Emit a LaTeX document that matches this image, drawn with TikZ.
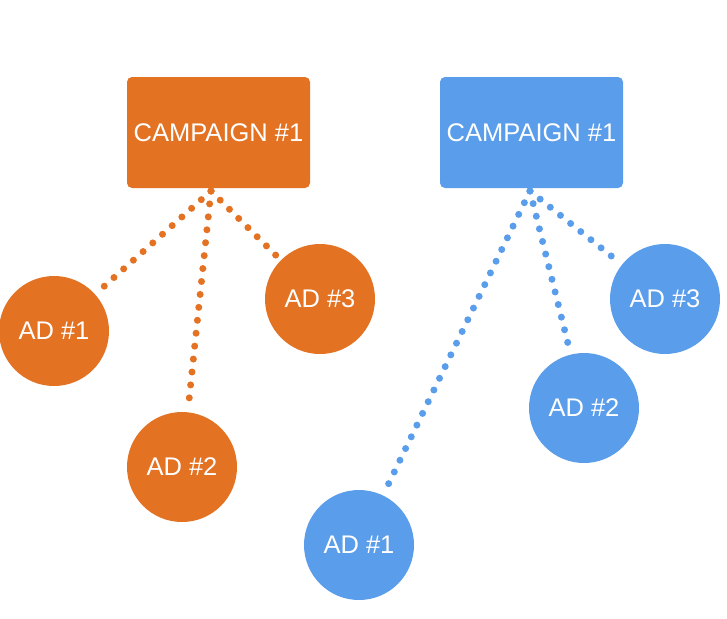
\documentclass[tikz,border=0pt]{standalone}
\usepackage{fontspec}
\setmainfont{Liberation Sans}
\definecolor{adorange}{HTML}{E37222}
\definecolor{adblue}{HTML}{5A9DEA}
\begin{document}
\begin{tikzpicture}
          [x=1pt,y=-1pt,
           campaign/.style={rectangle,rounded corners=5pt,minimum width=183pt,minimum height=111pt,text=white,font=\fontsize{25.5}{30}\selectfont},
           ad/.style={circle,minimum size=110pt,inner sep=0pt,text=white,font=\fontsize{25.5}{30}\selectfont},
           link/.style={line width=7pt,line cap=round,dash pattern=on 0pt off 13pt}]
          \useasboundingbox (0,0) rectangle (727,618);
          % orange campaign
          \node[campaign,fill=adorange] (co) at (218.5,132.5) {CAMPAIGN \#1};
          \node[ad,fill=adorange] (co1) at (54,331)  {AD \#1};
          \node[ad,fill=adorange] (co2) at (182,467) {AD \#2};
          \node[ad,fill=adorange] (co3) at (320,299) {AD \#3};
          \coordinate (ro) at (211,191);

          % blue campaign
          \node[campaign,fill=adblue] (cb) at (531.5,132.5) {CAMPAIGN \#1};
          \node[ad,fill=adblue] (cb1) at (359,545) {AD \#1};
          \node[ad,fill=adblue] (cb2) at (584,408) {AD \#2};
          \node[ad,fill=adblue] (cb3) at (665,299) {AD \#3};
          \coordinate (rb) at (530,191);

          \foreach \to in {co1,co2,co3}
            \draw[link,adorange,shorten >=2pt] (ro) -- (\to);
          \foreach \to in {cb1,cb2,cb3}
            \draw[link,adblue,shorten >=2pt] (rb) -- (\to);

        \end{tikzpicture}
\end{document}
